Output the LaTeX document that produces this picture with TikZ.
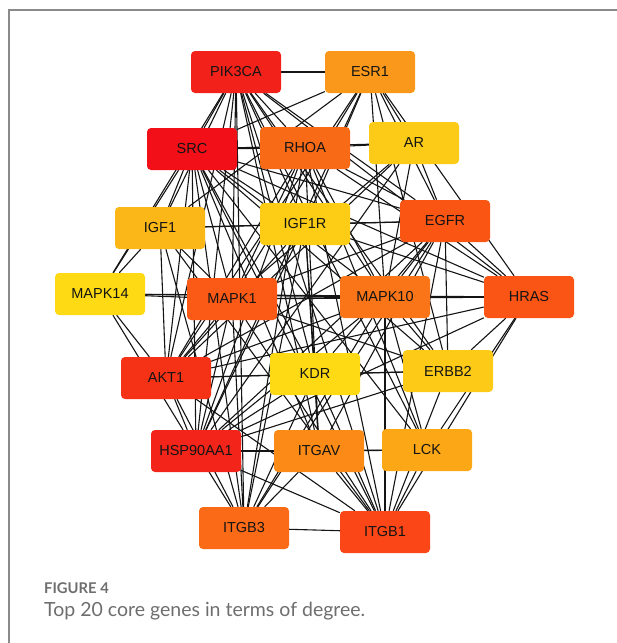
\documentclass[tikz,border=0pt]{standalone}
\usepackage{fontspec}
\setmainfont{Liberation Sans}
\newfontfamily\captionfont{Lato}
\usetikzlibrary{backgrounds}

\definecolor{framegray}{HTML}{8A8A8A}
\definecolor{captiongray}{HTML}{6E6E6E}
\definecolor{gPIK}{HTML}{F2221A}
\definecolor{gESR}{HTML}{F9981A}
\definecolor{gSRC}{HTML}{F20F17}
\definecolor{gRHOA}{HTML}{F96A17}
\definecolor{gAR}{HTML}{FCCB17}
\definecolor{gIGF}{HTML}{FBB617}
\definecolor{gIGFR}{HTML}{FDCD15}
\definecolor{gEGFR}{HTML}{FB5514}
\definecolor{gMAPKf}{HTML}{FDDA13}
\definecolor{gMAPKa}{HTML}{FB5A16}
\definecolor{gMAPKt}{HTML}{FA7518}
\definecolor{gHRAS}{HTML}{FB5515}
\definecolor{gAKT}{HTML}{F63216}
\definecolor{gKDR}{HTML}{FDDA14}
\definecolor{gERBB}{HTML}{FCCA17}
\definecolor{gHSP}{HTML}{F32419}
\definecolor{gITGAV}{HTML}{FB8B16}
\definecolor{gLCK}{HTML}{FBA716}
\definecolor{gITGBt}{HTML}{FB6A17}
\definecolor{gITGBa}{HTML}{FB4617}

\tikzset{
  gene/.style={rectangle, rounded corners=4pt, minimum width=90pt,
    minimum height=42pt, inner sep=0pt, text=black!92,
    font=\fontsize{14.5}{16}\selectfont},
  link/.style={draw=black!92, line width=1.1pt}
}

\begin{document}
\begin{tikzpicture}[x=1pt,y=-1pt]
    \useasboundingbox (0,0) rectangle (617,643);
    \draw[framegray, line width=1.5pt] (9,643) -- (9,10) -- (617,10);

    % genes, rows from top to bottom
    \node[gene, fill=gPIK]    (PIK3CA)   at (236,72)  {PIK3CA};
    \node[gene, fill=gESR]    (ESR1)     at (370,72)  {ESR1};
    \node[gene, fill=gSRC]    (SRC)      at (192,149) {SRC};
    \node[gene, fill=gRHOA]   (RHOA)     at (305,148) {RHOA};
    \node[gene, fill=gAR]     (AR)       at (414,143) {AR};
    \node[gene, fill=gIGF]    (IGF1)     at (160,228) {IGF1};
    \node[gene, fill=gIGFR]   (IGF1R)    at (305,224) {IGF1R};
    \node[gene, fill=gEGFR]   (EGFR)     at (445,221) {EGFR};
    \node[gene, fill=gMAPKf]  (MAPK14)   at (100,294) {MAPK14};
    \node[gene, fill=gMAPKa]  (MAPK1)    at (232,299) {MAPK1};
    \node[gene, fill=gMAPKt]  (MAPK10)   at (385,297) {MAPK10};
    \node[gene, fill=gHRAS]   (HRAS)     at (529,297) {HRAS};
    \node[gene, fill=gAKT]    (AKT1)     at (166,378) {AKT1};
    \node[gene, fill=gKDR]    (KDR)      at (315,374) {KDR};
    \node[gene, fill=gERBB]   (ERBB2)    at (448,371) {ERBB2};
    \node[gene, fill=gHSP]    (HSP90AA1) at (196,451) {HSP90AA1};
    \node[gene, fill=gITGAV]  (ITGAV)    at (319,451) {ITGAV};
    \node[gene, fill=gLCK]    (LCK)      at (427,450) {LCK};
    \node[gene, fill=gITGBt]  (ITGB3)    at (244,528) {ITGB3};
    \node[gene, fill=gITGBa]  (ITGB1)    at (385,532) {ITGB1};

    % interactions, behind the boxes
    \begin{scope}[on background layer]
    \foreach \a in {PIK3CA,ESR1,RHOA,AR,IGF1,IGF1R,EGFR,MAPK14,MAPK1,MAPK10,
                    HRAS,AKT1,KDR,ERBB2,HSP90AA1,ITGAV,LCK,ITGB3,ITGB1}
      \draw[link] (SRC) -- (\a);
    \foreach \a in {ESR1,RHOA,IGF1,IGF1R,EGFR,MAPK14,MAPK1,MAPK10,HRAS,AKT1,
                    KDR,ERBB2,HSP90AA1,ITGAV,LCK,ITGB3,ITGB1}
      \draw[link] (PIK3CA) -- (\a);
    \foreach \a in {ESR1,RHOA,AR,IGF1R,EGFR,MAPK14,MAPK1,MAPK10,HRAS,AKT1,
                    KDR,ERBB2,ITGAV,LCK,ITGB3,ITGB1}
      \draw[link] (HSP90AA1) -- (\a);
    \foreach \a in {ESR1,RHOA,AR,IGF1,IGF1R,EGFR,MAPK14,MAPK1,MAPK10,HRAS,
                    KDR,ERBB2,ITGB3,ITGB1}
      \draw[link] (AKT1) -- (\a);
    \foreach \a in {ESR1,RHOA,AR,IGF1,IGF1R,MAPK1,MAPK10,HRAS,KDR,ERBB2,
                    ITGAV,ITGB3,ITGB1}
      \draw[link] (EGFR) -- (\a);
    \foreach \a/\b in {HRAS/ESR1,HRAS/RHOA,HRAS/IGF1R,HRAS/MAPK14,HRAS/MAPK1,
                       HRAS/MAPK10,HRAS/ERBB2,HRAS/LCK,HRAS/ITGB1,
                       ITGB1/RHOA,ITGB1/IGF1,ITGB1/MAPK1,ITGB1/MAPK10,ITGB1/KDR,
                       ITGB1/ERBB2,ITGB1/ITGAV,ITGB1/LCK,ITGB1/ITGB3,
                       MAPK1/ESR1,MAPK1/RHOA,MAPK1/AR,MAPK1/IGF1,MAPK1/MAPK14,
                       MAPK1/MAPK10,MAPK1/ERBB2,MAPK1/ITGB3,
                       RHOA/AR,RHOA/MAPK10,RHOA/ITGAV,RHOA/ITGB3,RHOA/LCK,
                       ITGB3/IGF1,ITGB3/IGF1R,ITGB3/KDR,ITGB3/ITGAV,ITGB3/MAPK10,
                       MAPK10/ESR1,MAPK10/AR,MAPK10/ERBB2,MAPK10/LCK,MAPK10/MAPK14,
                       ITGAV/IGF1R,ITGAV/KDR,ITGAV/LCK,
                       ESR1/AR,ESR1/IGF1,ESR1/IGF1R,ESR1/ERBB2,
                       IGF1/IGF1R,IGF1/MAPK14,IGF1R/KDR,ERBB2/KDR}
      \draw[link] (\a) -- (\b);
    \end{scope}

    % caption
    \node[anchor=base west, inner sep=0pt, text=captiongray,
          font=\captionfont\bfseries\fontsize{14.8}{17}\selectfont] (fig) at (44,593) {FIGURE 4};
    \node[anchor=base west, inner sep=0pt, text=captiongray,
          font=\captionfont\fontsize{19.5}{23}\selectfont] (cap) at (44,616)
          {Top 20 core genes in terms of degree.};
\end{tikzpicture}
\end{document}
